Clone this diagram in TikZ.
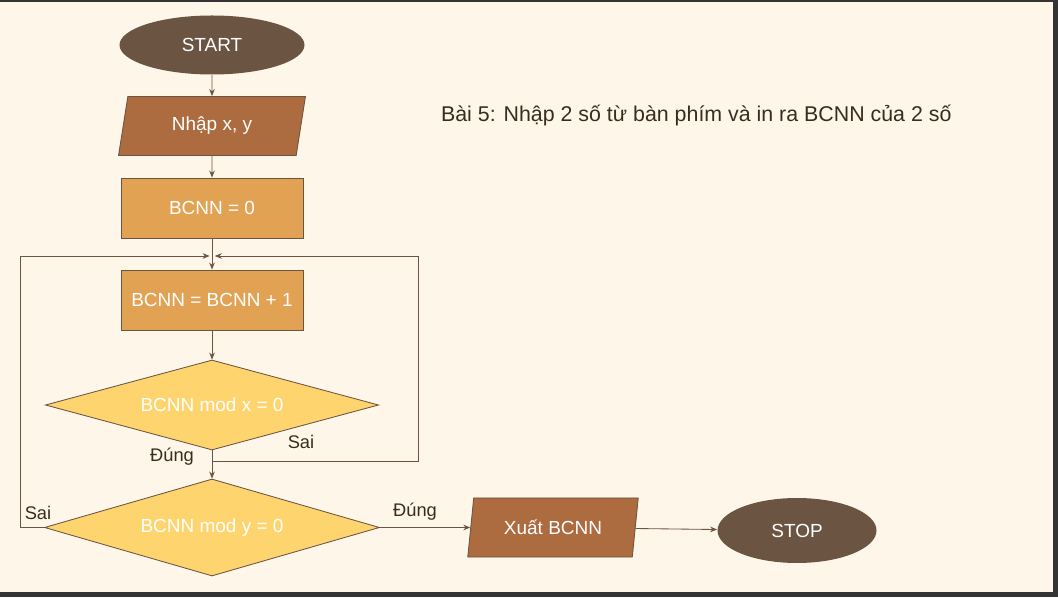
\documentclass[tikz,border=0pt]{standalone}
\usepackage{fontspec}
\setmainfont{Liberation Sans}
\usetikzlibrary{arrows.meta,shapes.geometric}

\definecolor{paper}{HTML}{FEF7E9}
\definecolor{frame}{HTML}{343434}
\definecolor{ink}{HTML}{6B5442}
\definecolor{term}{HTML}{6B5442}
\definecolor{io}{HTML}{AD6B40}
\definecolor{proc}{HTML}{E2A254}
\definecolor{cond}{HTML}{FED46E}
\definecolor{lbl}{HTML}{3A2C1C}

\begin{document}
\begin{tikzpicture}[>={Stealth[length=5pt,width=4pt]},font=\fontsize{13.5}{15}\selectfont,
 line width=0.6pt,
 term/.style={ellipse,fill=term,text=white,minimum width=4.625cm,minimum height=1.475cm,inner sep=0pt},
 io/.style={trapezium,trapezium left angle=76,trapezium right angle=104,trapezium stretches=true,
  fill=io,draw=ink,text=white,minimum width=4.7cm,minimum height=1.475cm,inner sep=0pt},
 proc/.style={rectangle,fill=proc,draw=ink,text=white,minimum width=4.55cm,minimum height=1.5cm},
 cond/.style={diamond,fill=cond,draw=ink,text=white,aspect=3.7,minimum width=8.33cm,minimum height=2.25cm,inner sep=0pt},
 lab/.style={text=lbl,font=\fontsize{13}{15}\selectfont}]
% background
\fill[frame] (0,0) rectangle (26.45,14.925);
\fill[paper] (0,0.125) rectangle (26.325,14.875);
% title
\node[lab,anchor=west,font=\fontsize{15.2}{17}\selectfont] (title) at (10.9,12.025)
 {Bài 5: Nhập 2 số từ bàn phím và in ra BCNN của 2 số};
% main column
\node[term] (start) at (5.3,13.8) {START};
\node[io] (inp) at (5.3,11.775) {Nhập x, y};
\node[proc] (init) at (5.3,9.725) {BCNN = 0};
\coordinate (jn) at (5.3,8.525);
\coordinate (jL) at (5.24,8.525);
\coordinate (jR) at (5.37,8.525);
\node[proc] (inc) at (5.3,7.425) {BCNN = BCNN + 1};
\node[cond] (d1) at (5.3,4.8) {BCNN mod x = 0};
\coordinate (br) at (5.3,3.4);
\node[cond,aspect=3.45,minimum width=8.375cm,minimum height=2.425cm] (d2) at (5.3,1.7375) {BCNN mod y = 0};
% bottom row
\node[io,minimum width=4.275cm] (out) at (13.825,1.7375) {Xuất BCNN};
\node[term,minimum width=3.975cm,minimum height=1.625cm] (stop) at (19.925,1.6625) {STOP};
% loop corners
\coordinate (rb) at (10.45,3.4);
\coordinate (lb) at (0.5,1.7375);
% labels
\node[lab] (sai1) at (7.525,3.875) {Sai};
\node[lab] (dung1) at (4.3,3.5) {Đúng};
\node[lab] (sai2) at (0.95,2.1) {Sai};
\node[lab] (dung2) at (10.375,2.125) {Đúng};
\begin{scope}[draw=ink]
\path[->]
 (start) edge (inp)
 (inp) edge (init)
 (init) edge (inc)
 (inc) edge (d1)
 (d1) edge (d2)
 (d2.east) edge (out)
 (out) edge (stop);
\draw[->] (br) -- (rb) |- (jR);
\draw[->] (d2.west) -- (lb) |- (jL);
\end{scope}
\end{tikzpicture}
\end{document}
